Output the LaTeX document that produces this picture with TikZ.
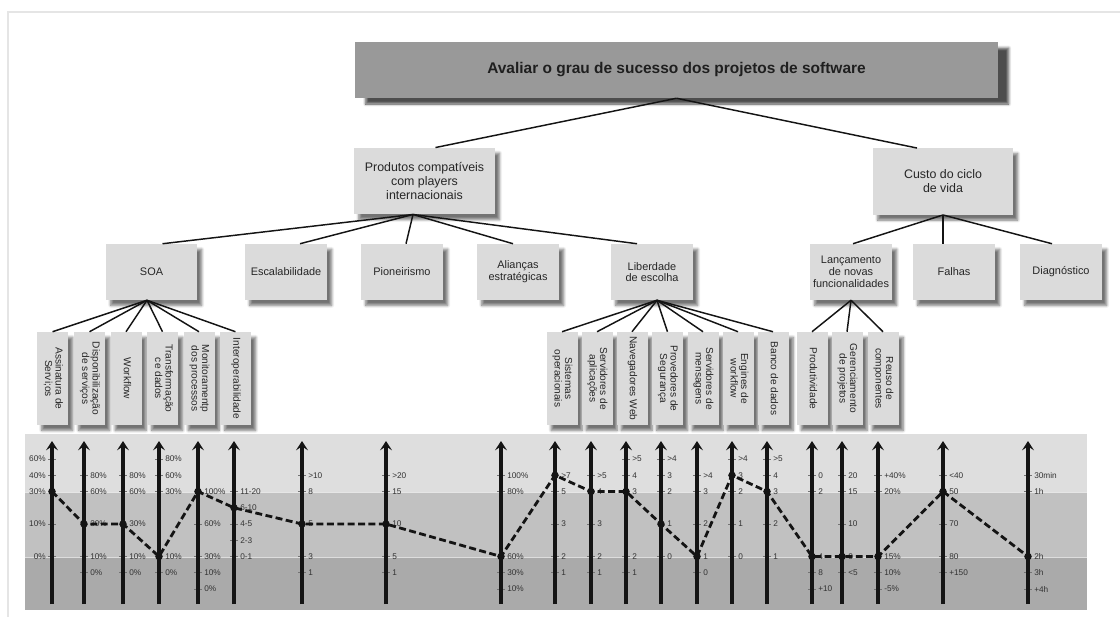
\documentclass[tikz,border=0pt]{standalone}
\usepackage{fontspec}
\setmainfont{Liberation Sans}
\usepackage{graphicx}
\usetikzlibrary{arrows.meta,calc,shadows.blur}

\definecolor{boxfill}{gray}{0.86}
\definecolor{rootfill}{gray}{0.6}
\definecolor{bandA}{gray}{0.87}
\definecolor{bandB}{gray}{0.755}
\definecolor{bandC}{gray}{0.665}
\definecolor{frameline}{gray}{0.9}
\definecolor{ink}{gray}{0.08}
\definecolor{labink}{gray}{0.2}
\definecolor{tickink}{gray}{0.45}

% vertical (top-to-bottom) text block for the narrow criteria boxes
\newcommand\vtext[1]{\rotatebox{-90}{\begin{tabular}{@{}c@{}}#1\end{tabular}}}

% one evaluation scale: #1 index, #2 x position, #3 label anchor, #4 label offset, #5 level/label list
\newcommand\scaleaxis[5]{%
  \coordinate (axb#1) at (#2,604);
  \coordinate (axt#1) at (#2,441);
  \foreach \lv/\tx in {#5} {
    \pgfmathsetmacro\yy{459+(\lv-1)*16.25}
    \draw[tickmark] (#2-4,\yy) -- (#2+4,\yy);
    \node[ticklabel, anchor=#3] (lab#1-\lv) at (#2+#4,\yy) {\tx};
  }
  \draw[axisline] (axb#1) -- (axt#1);
}

\tikzset{
  softshadow/.style={blur shadow={shadow xshift=3.5pt, shadow yshift=-4pt, shadow blur radius=2pt, shadow blur steps=6, shadow opacity=55}},
  rootbox/.style={fill=rootfill, minimum width=482.25pt, minimum height=42pt, inner sep=0pt,
     font=\fontsize{11.6}{13}\selectfont\bfseries, text=black!88,
     blur shadow={shadow xshift=8pt, shadow yshift=-4.5pt, shadow blur radius=2pt, shadow blur steps=6, shadow opacity=70}},
  bigbox/.style={fill=boxfill, softshadow, minimum width=105.5pt, minimum height=49.8pt, inner sep=0pt, align=center, font=\fontsize{9.3}{10.5}\selectfont, text=black!85},
  midbox/.style={fill=boxfill, softshadow, minimum width=61.5pt, minimum height=42pt, inner sep=0pt, align=center, font=\fontsize{8.2}{8.8}\selectfont, text=black!85},
  vbox/.style={fill=boxfill, softshadow, minimum width=23.25pt, minimum height=69.75pt, inner sep=0pt, font=\fontsize{7.6}{8}\selectfont, text=black!85},
  link/.style={draw=ink, line width=1.1pt},
  axisline/.style={draw=ink, line width=2.3pt, -{Stealth[length=7pt,width=9pt,inset=3pt]}},
  tickmark/.style={draw=tickink, line width=0.4pt},
  ticklabel/.style={font=\fontsize{6.2}{7}\selectfont, text=labink, inner sep=0pt},
  profile/.style={draw=ink, line width=2.1pt, dash pattern=on 5.2pt off 2.6pt},
  bandsep/.style={draw=white, opacity=0.6, line width=0.6pt},
}

\begin{document}
\begin{tikzpicture}[x=0.75pt, y=-0.75pt]
\useasboundingbox (0,0) rectangle (1120,617);

% page frame
\draw[frameline, line width=0.8pt] (8,617) -- (8,12) -- (1120,12);

% ---------------- tree of goals ----------------
\node[rootbox] (root) at (676.5,70) {Avaliar o grau de sucesso dos projetos de software};

\node[bigbox] (prod)  at (424.5,181)   {Produtos compatíveis\\com players\\internacionais};
\node[bigbox, minimum width=105pt] (custo) at (943,181.5) {Custo do ciclo\\de vida};

\node[midbox, minimum width=68.25pt] (soa) at (151.5,272) {SOA};
\node[midbox] (escal)  at (286,272)  {Escalabilidade};
\node[midbox] (pion)   at (402,272)  {Pioneirismo};
\node[midbox] (alian)  at (518,272)  {Alianças\\estratégicas};
\node[midbox] (lib)    at (652,272)  {Liberdade\\de escolha};
\node[midbox] (lanc)   at (851,272)  {Lançamento\\de novas\\funcionalidades};
\node[midbox] (falhas) at (954,272)  {Falhas};
\node[midbox] (diag)   at (1061,272) {Diagnóstico};

\node[vbox] (a1) at (52.5,378.5)  {\vtext{Assinatura de\\Servi;os}};
\node[vbox] (a2) at (89.5,378.5)  {\vtext{Disponibilização\\de serviços}};
\node[vbox] (a3) at (126,378.5)   {\vtext{Workflow}};
\node[vbox] (a4) at (162.5,378.5) {\vtext{Transformação\\ce dados}};
\node[vbox] (a5) at (199,378.5)   {\vtext{Monitoramentp\\dos processos}};
\node[vbox] (a6) at (235.5,378.5) {\vtext{Interoperabilidade}};

\node[vbox] (b1) at (562,378.5)   {\vtext{Sistemas\\operacionais}};
\node[vbox] (b2) at (597,378.5)   {\vtext{Servidores de\\aplicações}};
\node[vbox] (b3) at (632,378.5)   {\vtext{Navegadores Web}};
\node[vbox] (b4) at (667.5,378.5) {\vtext{Provedores de\\Segurança}};
\node[vbox] (b5) at (703,378.5)   {\vtext{Servidores de\\mensagens}};
\node[vbox] (b6) at (738,378.5)   {\vtext{Engines de\\workflow}};
\node[vbox] (b7) at (773,378.5)   {\vtext{Banco de dados}};

\node[vbox] (c1) at (812,378.5)   {\vtext{Produtividade}};
\node[vbox] (c2) at (847,378.5)   {\vtext{Gerenciamento\\de projetos}};
\node[vbox] (c3) at (883,378.5)   {\vtext{Reuso de\\componentes}};

% connectors
\draw[link] (root.south) -- ($(prod.north)+(11,0)$);
\draw[link] (root.south) -- ($(custo.north)+(-26,0)$);

\foreach \t/\d in {soa/11, escal/14, pion/4, alian/-5, lib/-15}
  \draw[link] ($(prod.south)+(-11.5,0)$) -- ($(\t.north)+(\d,0)$);

\draw[link] (custo.south) -- ($(lanc.north)+(2,0)$);
\draw[link] (custo.south) -- ($(falhas.north)+(-11,0)$);
\draw[link] (custo.south) -- ($(diag.north)+(-9,0)$);

\foreach \t in {a1,a2,a3,a4,a5,a6}
  \draw[link] ($(soa.south)+(-4.5,0)$) -- (\t.north);
\foreach \t in {b1,b2,b3,b4,b5,b6,b7}
  \draw[link] ($(lib.south)+(5,0)$) -- (\t.north);
\foreach \t in {c1,c2,c3}
  \draw[link] (lanc.south) -- (\t.north);

% ---------------- evaluation scales ----------------
\fill[bandA] (25,434) rectangle (1087,492);
\fill[bandB] (25,492) rectangle (1087,557);
\fill[bandC] (25,557) rectangle (1087,610);
\draw[bandsep] (25,492) -- (1087,492);
\draw[bandsep] (25,557) -- (1087,557);

\scaleaxis{1}{52}{east}{-6}{1/60\%,2/40\%,3/30\%,5/10\%,7/0\%}
\scaleaxis{2}{84}{west}{6}{2/80\%,3/60\%,5/30\%,7/10\%,8/0\%}
\scaleaxis{3}{123}{west}{6}{2/80\%,3/60\%,5/30\%,7/10\%,8/0\%}
\scaleaxis{4}{159}{west}{6}{1/80\%,2/60\%,3/30\%,7/10\%,8/0\%}
\scaleaxis{5}{198}{west}{6}{3/100\%,5/60\%,7/30\%,8/10\%,9/0\%}
\scaleaxis{6}{234}{west}{6}{3/11-20,4/6-10,5/4-5,6/2-3,7/0-1}
\scaleaxis{7}{302}{west}{6}{2/>10,3/8,5/5,7/3,8/1}
\scaleaxis{8}{386}{west}{6}{2/>20,3/15,5/10,7/5,8/1}
\scaleaxis{9}{501}{west}{6}{2/100\%,3/80\%,7/60\%,8/30\%,9/10\%}
\scaleaxis{10}{555}{west}{6}{2/>7,3/5,5/3,7/2,8/1}
\scaleaxis{11}{591}{west}{6}{2/>5,3/4,5/3,7/2,8/1}
\scaleaxis{12}{626}{west}{6}{1/>5,2/4,3/3,7/2,8/1}
\scaleaxis{13}{661}{west}{6}{1/>4,2/3,3/2,5/1,7/0}
\scaleaxis{14}{697}{west}{6}{2/>4,3/3,5/2,7/1,8/0}
\scaleaxis{15}{732}{west}{6}{1/>4,2/3,3/2,5/1,7/0}
\scaleaxis{16}{767}{west}{6}{1/>5,2/4,3/3,5/2,7/1}
\scaleaxis{17}{812}{west}{6}{2/0,3/2,7/4,8/8,9/+10}
\scaleaxis{18}{842}{west}{6}{2/20,3/15,5/10,7/0,8/<5}
\scaleaxis{19}{878}{west}{6}{2/+40\%,3/20\%,7/15\%,8/10\%,9/-5\%}
\scaleaxis{20}{943}{west}{6}{2/<40,3/50,5/70,7/80,8/+150}
\scaleaxis{21}{1028}{west}{6}{2/30min,3/1h,7/2h,8/3h,9/+4h}

% assessed profile
\foreach \ax/\lv [count=\i] in {52/3,84/5,123/5,159/7,198/3,234/4,302/5,386/5,501/7,
    555/2,591/3,626/3,661/5,697/7,732/2,767/3,812/7,842/7,878/7,943/3,1028/7}
  \coordinate (p\i) at (\ax,{459+(\lv-1)*16.25});

\draw[profile] (p1) \foreach \i in {2,...,21}{ -- (p\i)};
\foreach \i in {1,...,21} \fill[ink] (p\i) circle (2.8pt);

\end{tikzpicture}
\end{document}
